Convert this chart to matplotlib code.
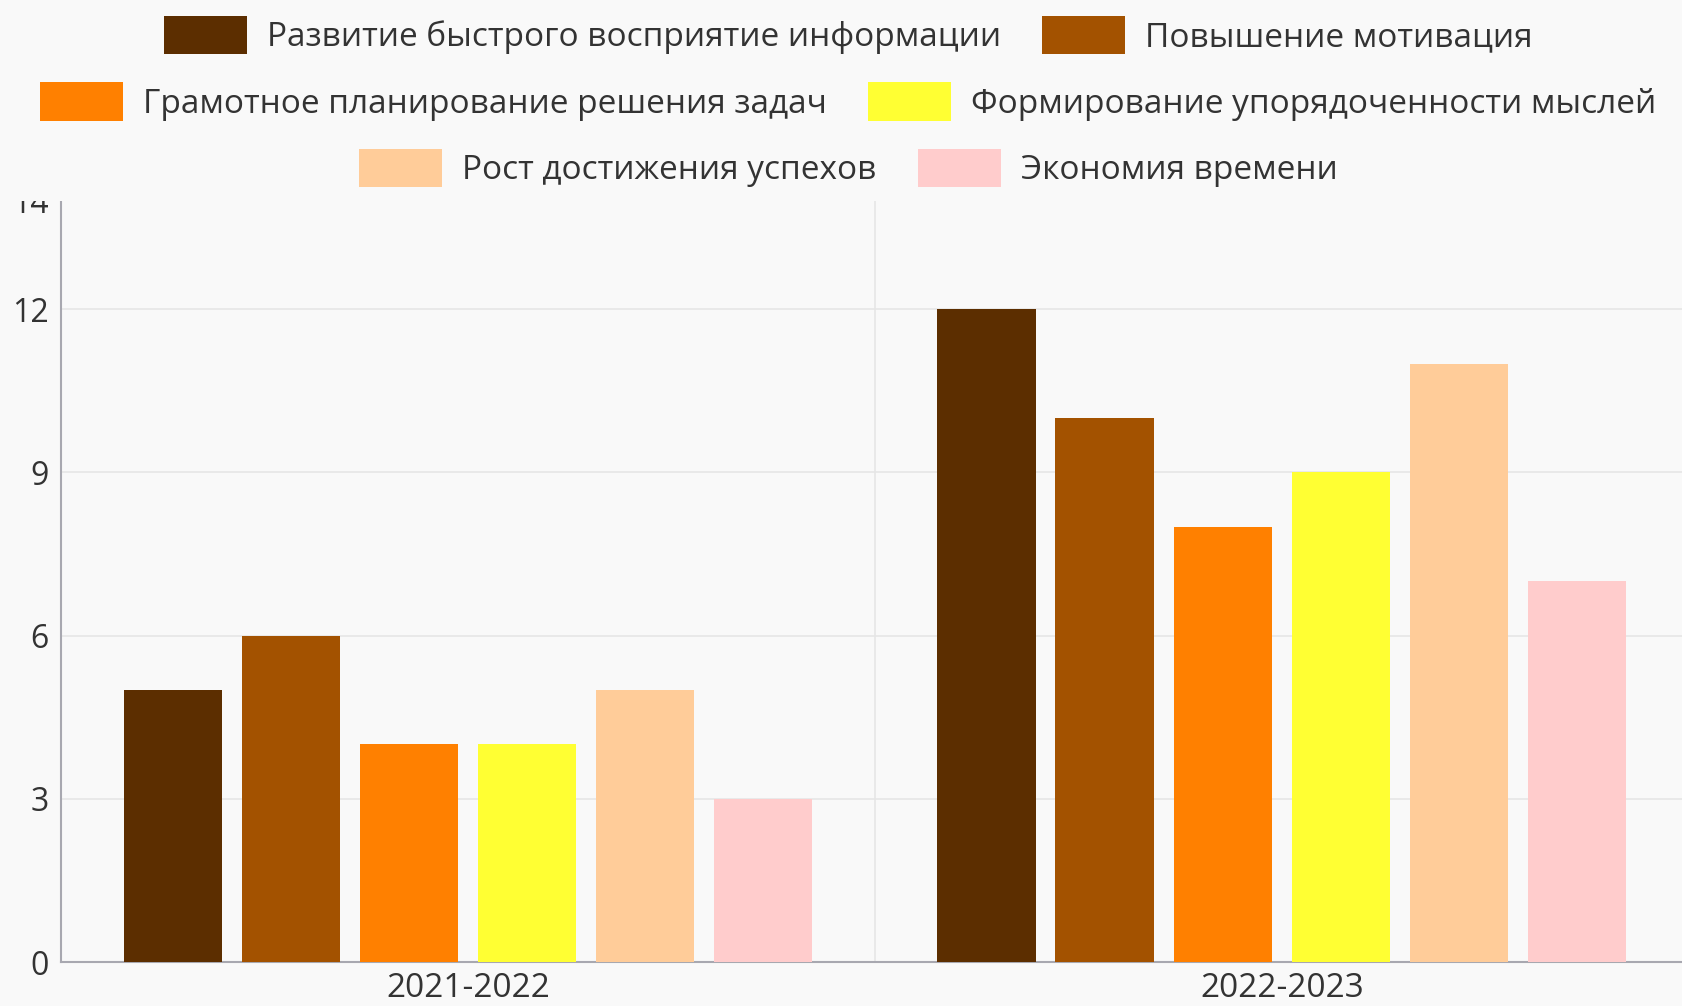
import matplotlib.pyplot as plt
import matplotlib.patches as patches
import numpy as np

plt.rcParams['font.family'] = ['Open Sans', 'DejaVu Sans']

years = ['2021-2022', '2022-2023']
labels = [
    'Развитие быстрого восприятие информации',
    'Повышение мотивация',
    'Грамотное планирование решения задач',
    'Формирование упорядоченности мыслей',
    'Рост достижения успехов',
    'Экономия времени',
]
values = [
    [5, 12],
    [6, 10],
    [4, 8],
    [4, 9],
    [5, 11],
    [3, 7],
]
colors = ['#5c2e00', '#a35200', '#ff8000', '#ffff33', '#ffcc99', '#ffcccc']
yticks = [0, 3, 6, 9, 12, 14]

bg = '#f9f9f9'
txt = '#333333'

fig = plt.figure(figsize=(16.83, 10.06), dpi=100, facecolor=bg)
ax = fig.add_axes([0.0362, 0.0437, 0.9638, 0.757])
ax.set_facecolor(bg)

x = np.arange(len(years))
step = 0.145
width = 0.121
handles = []
for i, (lab, vals, c) in enumerate(zip(labels, values, colors)):
    b = ax.bar(x + (i - 2.5) * step, vals, width, color=c, label=lab, zorder=3)
    handles.append(b)

ax.set_xlim(-0.5, 1.493)
ax.set_ylim(0, 14)
ax.set_yticks(yticks)
ax.set_xticks(x)
ax.set_xticklabels(years)
ax.tick_params(axis='both', length=0, colors=txt)
ax.tick_params(axis='y', pad=9, labelsize=23)
ax.tick_params(axis='x', pad=7, labelsize=24)
ax.yaxis.grid(True, color='#e6e6e6', lw=1.2, zorder=0)
ax.axvline(0.5, color='#e6e6e6', lw=1.2, zorder=0)
for s in ['top', 'right']:
    ax.spines[s].set_visible(False)
for s in ['left', 'bottom']:
    ax.spines[s].set_color('#a8a8b0')
    ax.spines[s].set_linewidth(1.5)

# cover the area above the plot (clips the top tick label like the original)
fig.patches.append(patches.Rectangle((0, 0.8), 1, 0.2, transform=fig.transFigure,
                                     facecolor=bg, edgecolor='none', zorder=1))

rows = [(0, 1), (2, 3), (4, 5)]
row_y = [0.965, 0.899, 0.833]
for (a, b), yy in zip(rows, row_y):
    leg = fig.legend([handles[a], handles[b]], [labels[a], labels[b]],
                     loc='center', bbox_to_anchor=(0.504, yy), ncol=2,
                     frameon=False, fontsize=24, handlelength=2.5, handleheight=1.4,
                     handletextpad=0.6, columnspacing=1.23, borderpad=0,
                     labelcolor=txt)
    leg.set_zorder(2)

fig.savefig('out.png', dpi=100, facecolor=bg)
